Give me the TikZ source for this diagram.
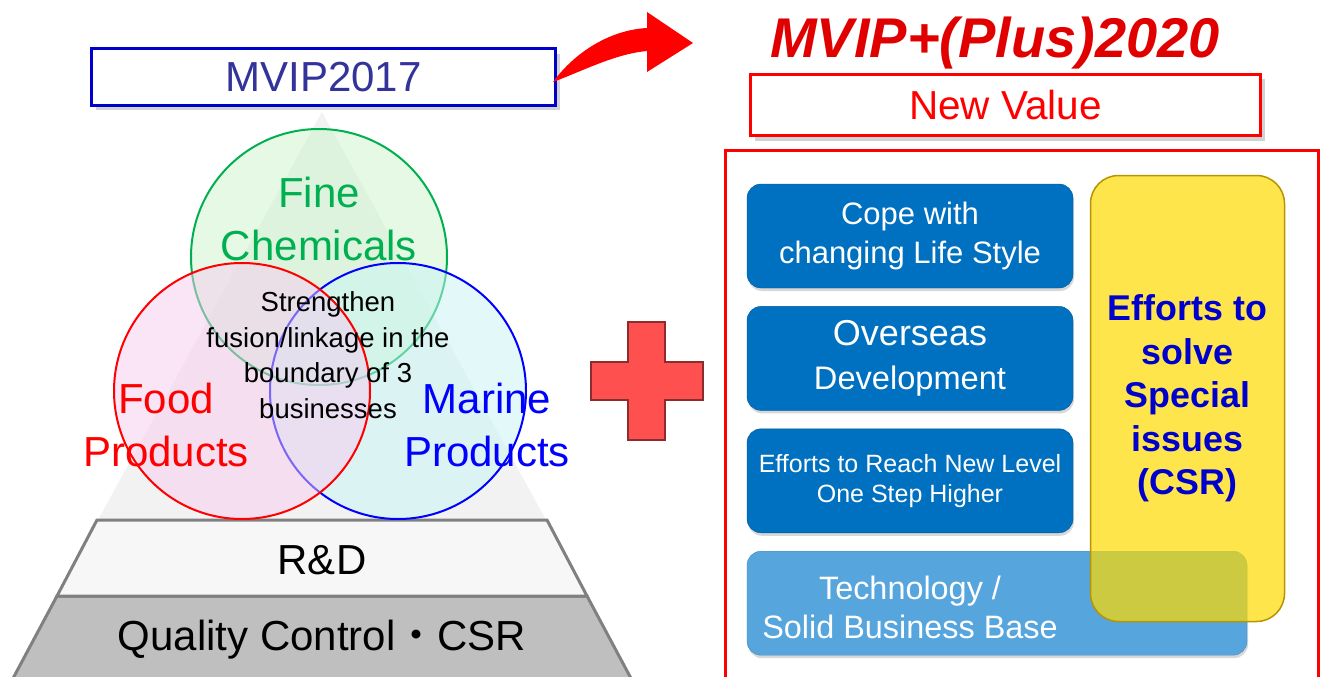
\documentclass[tikz,border=0pt]{standalone}
\usepackage{fontspec}
\setmainfont{Liberation Sans}
\newfontfamily\jpfont{Noto Sans CJK JP}
\usetikzlibrary{positioning}
\usetikzlibrary{calc}
\usetikzlibrary{shadows}
\definecolor{mvipblue}{RGB}{51,51,153}
\definecolor{boxblue}{RGB}{0,0,204}
\definecolor{finegreen}{RGB}{0,176,80}
\definecolor{finefill}{RGB}{204,245,204}
\definecolor{foodfill}{RGB}{247,204,240}
\definecolor{marinefill}{RGB}{200,245,245}
\definecolor{pyrgray}{RGB}{128,128,128}
\definecolor{plusred}{RGB}{255,80,80}
\definecolor{titlered}{RGB}{224,0,0}
\definecolor{copeblue}{RGB}{0,112,192}
\definecolor{techblue}{RGB}{86,165,221}
\definecolor{csryellow}{RGB}{255,218,0}
\definecolor{csrgold}{RGB}{184,148,0}
\definecolor{csrtext}{RGB}{0,0,204}
\newcommand\fsz[2]{\fontsize{#1}{#2}\selectfont}

\begin{document}
\begin{tikzpicture}[x=1pt, y=-1pt,
node distance=18pt,
headbox/.style={
  draw,
  line width=3pt,
  fill=white,
  minimum height=56pt,
  drop shadow={shadow xshift=4pt, shadow yshift=-5pt, opacity=0.35}},
venn/.style={
  circle,
  line width=2pt,
  minimum size=256pt,
  fill opacity=0.5},
layer/.style={draw=pyrgray, line width=3pt},
bluebox/.style={
  rounded corners=14pt,
  fill=copeblue,
  draw=copeblue!80!black,
  text=white,
  minimum width=326pt,
  minimum height=104pt,
  align=center,
  drop shadow={shadow xshift=1pt, shadow yshift=-3pt, opacity=0.3}}
]
\useasboundingbox (0,0) rectangle (1320,677);
\fill[white] (0,0) rectangle (1320,677);

% pyramid
\fill[black!5] (322,112) -- (546,520) -- (98,520) -- cycle;
\filldraw[layer, fill=black!25] (57,596) -- (587,596) -- (634,684) -- (10,684) -- cycle;
\filldraw[layer, fill=black!3] (97,520) -- (547,520) -- (587,596) -- (57,596) -- cycle;
\node[font=\fsz{42}{50}] (rd) at (322,560) {R\&D};
\node[font=\fsz{42}{50}] (qc) at (322,640) {Quality Control{\jpfont ・}CSR};

% three businesses
\node[venn, draw=finegreen, fill=finefill] (fine) at (319,257) {};
\node[venn, draw=blue, fill=marinefill] (marine) at (398,391) {};
\node[venn, draw=red, fill=foodfill] (food) at (242,391) {};
\node[font=\fsz{42}{53}, text=finegreen, align=center] (finetxt) at (319,219) {Fine\\Chemicals};
\node[font=\fsz{42}{53}, text=red, align=center] (foodtxt) at (166,425) {Food\\Products};
\node[font=\fsz{42}{53}, text=blue, align=center] (marinetxt) at (487,425) {Marine\\Products};
\node[font=\fsz{27.5}{35.5}, align=center] (fusion) at (328,355) {Strengthen\\fusion/linkage in the\\boundary of 3\\businesses};

\node[headbox, draw=boxblue, text=mvipblue, minimum width=464pt, font=\fsz{42}{50}] (mvip) at (323.5,77) {MVIP2017};

% curved arrow and plus
\coordinate (arrowfoot) at ($(mvip.east)+(-4,5)$);
\fill[red] (arrowfoot) .. controls (575,52) and (610,30) .. (647,28) -- (647,12) -- (693,43)
  -- (647,72) -- (647,51) .. controls (615,54) and (585,70) .. (arrowfoot);
\filldraw[fill=plusred, draw=plusred!55!black, line width=1.5pt] (628,322) -- (665,322) -- (665,362)
  -- (703,362) -- (703,400) -- (665,400) -- (665,440) -- (628,440) -- (628,400) -- (591,400)
  -- (591,362) -- (628,362) -- cycle;

% MVIP+ side
\node[font=\fsz{56}{60}\bfseries\itshape, text=titlered, anchor=base] (plus2020) at (995,58) {MVIP+(Plus)2020};
\node[headbox, draw=red, text=red, minimum width=510pt, minimum height=61pt, font=\fsz{40.5}{48}] (newval) at (1005.5,105) {New Value};
\node[draw=red, line width=3pt, minimum width=593pt, minimum height=545pt, anchor=north west] (frame) at (724,149) {};

\node[bluebox, font=\fsz{31}{39}] (cope) at (910,236) {Cope with\\changing Life Style};
\node[bluebox, below=of cope, font=\fsz{32.6}{44}] (overseas) {{\fsz{36}{44}Overseas}\\Development};
\node[bluebox, below=of overseas, font=\fsz{25}{30}] (effort) {Efforts to Reach New Level\\One Step Higher};
\node[bluebox, fill=techblue, draw=techblue!85!black, minimum width=500pt, below=of effort.south west, anchor=north west] (tech) {};
\node[font=\fsz{32.4}{39}, text=white, align=center] (techtxt) at (910,607) {Technology /\\Solid Business Base};

\node[rounded corners=28pt, fill=csryellow, fill opacity=0.7, text opacity=1, draw=csrgold, line width=1.5pt,
  minimum width=194pt, minimum height=446pt, text=csrtext, font=\fsz{35.8}{43.5}\bfseries, align=center]
  (csr) at (1187.5,398.5) {Efforts to\\solve\\Special\\issues\\(CSR)};

\end{tikzpicture}
\end{document}
